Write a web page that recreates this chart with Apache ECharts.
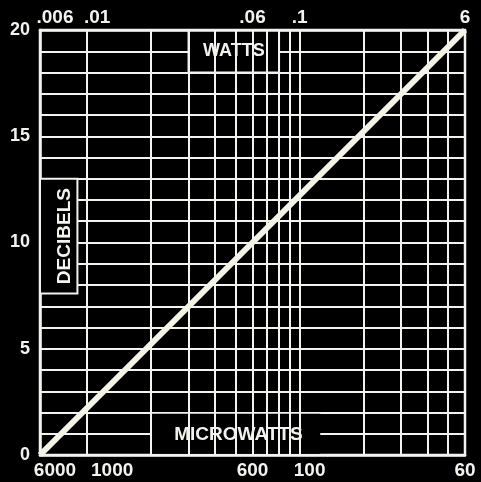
<!DOCTYPE html>
<html><head><meta charset="utf-8">
<script src="https://cdn.jsdelivr.net/npm/echarts@6/dist/echarts.min.js"></script>
<style>html,body{margin:0;padding:0;background:#000}#c{width:481px;height:482px}</style>
</head><body><div id="c"></div>
<script>
// ---- data ----
const wattTicks = [0.006, 0.01, 0.06, 0.1, 0.6];
const wattLabels = ['.006', '.01', '.06', '.1', '6'];
const microwattLabels = ['6000', '1000', '600', '100', '60'];
const gridWatts = [0.007, 0.008, 0.009, 0.01, 0.02, 0.03, 0.04, 0.05, 0.06, 0.07, 0.08, 0.09, 0.1, 0.2, 0.3, 0.4, 0.5];
const dbTicks = [0, 5, 10, 15, 20];
const lineWatts = [0.006, 0.06, 0.6];
const lineDb = [0, 10, 20];
const bottomTickWatts = [0.06, 0.1];

// ---- styling ----
const WHITE = '#f2f2ee';
const FONT = 'Liberation Sans';
const topShift = [30, 20, 0, 0, 0];
const botShift = [30, 50, 0, 20, 0];

function idxOf(v) {
  let best = 0, d = Infinity;
  wattTicks.forEach((t, i) => { const dd = Math.abs(Math.log(t) - Math.log(v)); if (dd < d) { d = dd; best = i; } });
  return best;
}
function richFor(shifts, prefix) {
  const r = {};
  shifts.forEach((s, i) => { r[prefix + i] = { color: WHITE, fontFamily: FONT, fontSize: 19, fontWeight: 'bold', padding: [0, 0, 0, s] }; });
  return r;
}

const boxes = [
  { text: 'WATTS', x0: 0.03, x1: 0.08, y0: 18, y1: 20, tx: 0.049, ty: 19, rot: 0, size: 18, border: 2 },
  { text: 'DECIBELS', x0: 0.006, x1: 0.009, y0: 7.6, y1: 13, tx: 0.00787, ty: 10.3, rot: 90, size: 19, border: 2 },
  { text: 'MICROWATTS', x0: 0.0202, x1: 0.125, y0: 0.06, y1: 1.94, tx: 0.0515, ty: 0.95, rot: 0, size: 19, border: 0 }
];

const chart = echarts.init(document.getElementById('c'), null, { renderer: 'canvas' });
chart.setOption({
  animation: false,
  backgroundColor: '#000',
  grid: { left: 40, right: 16, top: 30, bottom: 27, show: true, borderColor: WHITE, borderWidth: 2.5, backgroundColor: '#000' },
  xAxis: [
    {
      type: 'log', logBase: 10, min: 0.006, max: 0.6, position: 'bottom', z: 5,
      axisLine: { show: true, lineStyle: { color: WHITE, width: 2.5 } },
      axisTick: { show: true, inside: true, length: 9, customValues: bottomTickWatts, lineStyle: { color: WHITE, width: 2 } },
      splitLine: { show: false },
      axisLabel: {
        show: true, customValues: wattTicks, margin: 6,
        formatter: v => { const i = idxOf(v); return '{b' + i + '|' + microwattLabels[i] + '}'; },
        rich: richFor(botShift, 'b')
      }
    },
    {
      type: 'log', logBase: 10, min: 0.006, max: 0.6, position: 'top', z: 5,
      axisLine: { show: true, lineStyle: { color: WHITE, width: 2.5 } },
      axisTick: { show: false },
      splitLine: { show: false },
      axisLabel: {
        show: true, customValues: wattTicks, margin: 3,
        formatter: v => { const i = idxOf(v); return '{t' + i + '|' + wattLabels[i] + '}'; },
        rich: richFor(topShift, 't')
      }
    }
  ],
  yAxis: {
    type: 'value', min: 0, max: 20, interval: 1,
    axisLine: { show: true, lineStyle: { color: WHITE, width: 2.5 } },
    axisTick: { show: false },
    splitLine: { show: true, lineStyle: { color: WHITE, width: 2 } },
    axisLabel: {
      color: WHITE, fontFamily: FONT, fontSize: 18, fontWeight: 'bold', margin: 10,
      formatter: v => dbTicks.indexOf(v) >= 0 ? String(v) : ''
    }
  },
  series: [
    {
      name: 'gridlines', type: 'line', data: [], z: 1, silent: true,
      markLine: {
        silent: true, symbol: ['none', 'none'], label: { show: false },
        lineStyle: { color: WHITE, width: 2, type: 'solid' },
        data: gridWatts.map(v => ({ xAxis: v }))
      }
    },
    {
      name: 'boxes', type: 'line', data: [], z: 2, silent: true,
      markArea: {
        silent: true, label: { show: false },
        data: boxes.map(b => [
          { xAxis: b.x0, yAxis: b.y0, itemStyle: { color: '#000', opacity: 1, borderColor: WHITE, borderWidth: b.border } },
          { xAxis: b.x1, yAxis: b.y1 }
        ])
      }
    },
    {
      name: 'dB', type: 'line', z: 3, symbol: 'none', silent: true,
      data: lineWatts.map((w, i) => [w, lineDb[i]]),
      lineStyle: { color: '#f4f4e6', width: 6 }
    },
    {
      name: 'titles', type: 'scatter', z: 4, symbolSize: 0, silent: true,
      itemStyle: { color: '#000', opacity: 1 },
      data: boxes.map(b => ({
        value: [b.tx, b.ty],
        label: { show: true, position: 'inside', rotate: b.rot, formatter: b.text, color: WHITE, opacity: 1, textBorderWidth: 0, fontFamily: FONT, fontWeight: 'bold', fontSize: b.size }
      }))
    }
  ]
});
</script></body></html>
